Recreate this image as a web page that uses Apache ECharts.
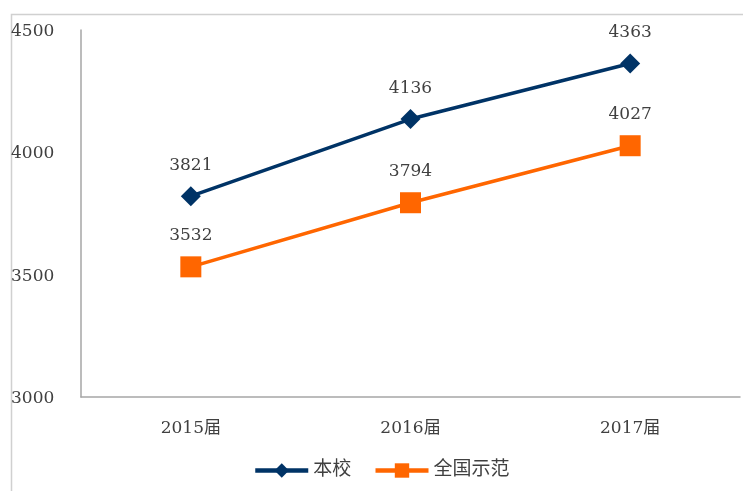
<!DOCTYPE html>
<html>
<head>
<meta charset="utf-8">
<script src="https://cdn.jsdelivr.net/npm/echarts@6/dist/echarts.min.js"></script>
<style>
  html, body { margin: 0; padding: 0; background: #fff; }
  #chart { width: 743px; height: 491px; }
</style>
</head>
<body>
<div id="chart"></div>
<script>
  // 数据
  var categories = ['2015届', '2016届', '2017届'];
  var schoolData = [3821, 4136, 4363];
  var nationData = [3532, 3794, 4027];
  var seriesNames = ['本校', '全国示范'];

  var font = '"DejaVu Serif", "Noto Sans CJK SC", serif';

  var myChart = echarts.init(document.getElementById('chart'));
  var option = {
      animation: false,
      backgroundColor: '#fff',
      graphic: [{
          type: 'rect',
          shape: { x: 11.5, y: 14.5, width: 800, height: 600 },
          style: { fill: 'none', stroke: '#d0d0d0', lineWidth: 1.5 },
          silent: true
      }],
      grid: { left: 81, right: 3, top: 30, bottom: 94 },
      legend: {
          data: seriesNames,
          bottom: 11,
          left: 253,
          padding: 0,
          itemWidth: 53,
          itemHeight: 18,
          itemGap: 22,
          lineStyle: { width: 4.5 },
          textStyle: { fontFamily: font, fontSize: 19, color: '#404040' }
      },
      xAxis: {
          type: 'category',
          data: categories,
          boundaryGap: true,
          axisLine: { lineStyle: { color: '#a6a6a6', width: 1.5 } },
          axisTick: { show: false },
          axisLabel: { margin: 23, fontFamily: font, fontSize: 17, color: '#404040' }
      },
      yAxis: {
          type: 'value',
          min: 3000,
          max: 4500,
          interval: 500,
          splitLine: { show: false },
          axisLine: { show: true, lineStyle: { color: '#a6a6a6', width: 1.5 } },
          axisTick: { show: false },
          axisLabel: {
              margin: 70, align: 'left', fontFamily: font, fontSize: 17, color: '#404040',
              verticalAlign: 'top', padding: [-7, 0, 0, 0],
              formatter: function (v) { return String(v); }
          }
      },
      series: [{
          name: seriesNames[0],
          type: 'line',
          data: schoolData,
          symbol: 'diamond',
          symbolSize: 20,
          lineStyle: { width: 3.5, color: '#003366' },
          itemStyle: { color: '#003366' },
          label: {
              show: true, position: 'top', distance: 12,
              fontFamily: font, fontSize: 17, color: '#404040'
          }
      }, {
          name: seriesNames[1],
          type: 'line',
          data: nationData,
          symbol: 'rect',
          symbolSize: 21,
          lineStyle: { width: 3.5, color: '#ff6600' },
          itemStyle: { color: '#ff6600' },
          label: {
              show: true, position: 'top', distance: 12,
              fontFamily: font, fontSize: 17, color: '#404040'
          }
      }]
  };
  myChart.setOption(option);
</script>
</body>
</html>
